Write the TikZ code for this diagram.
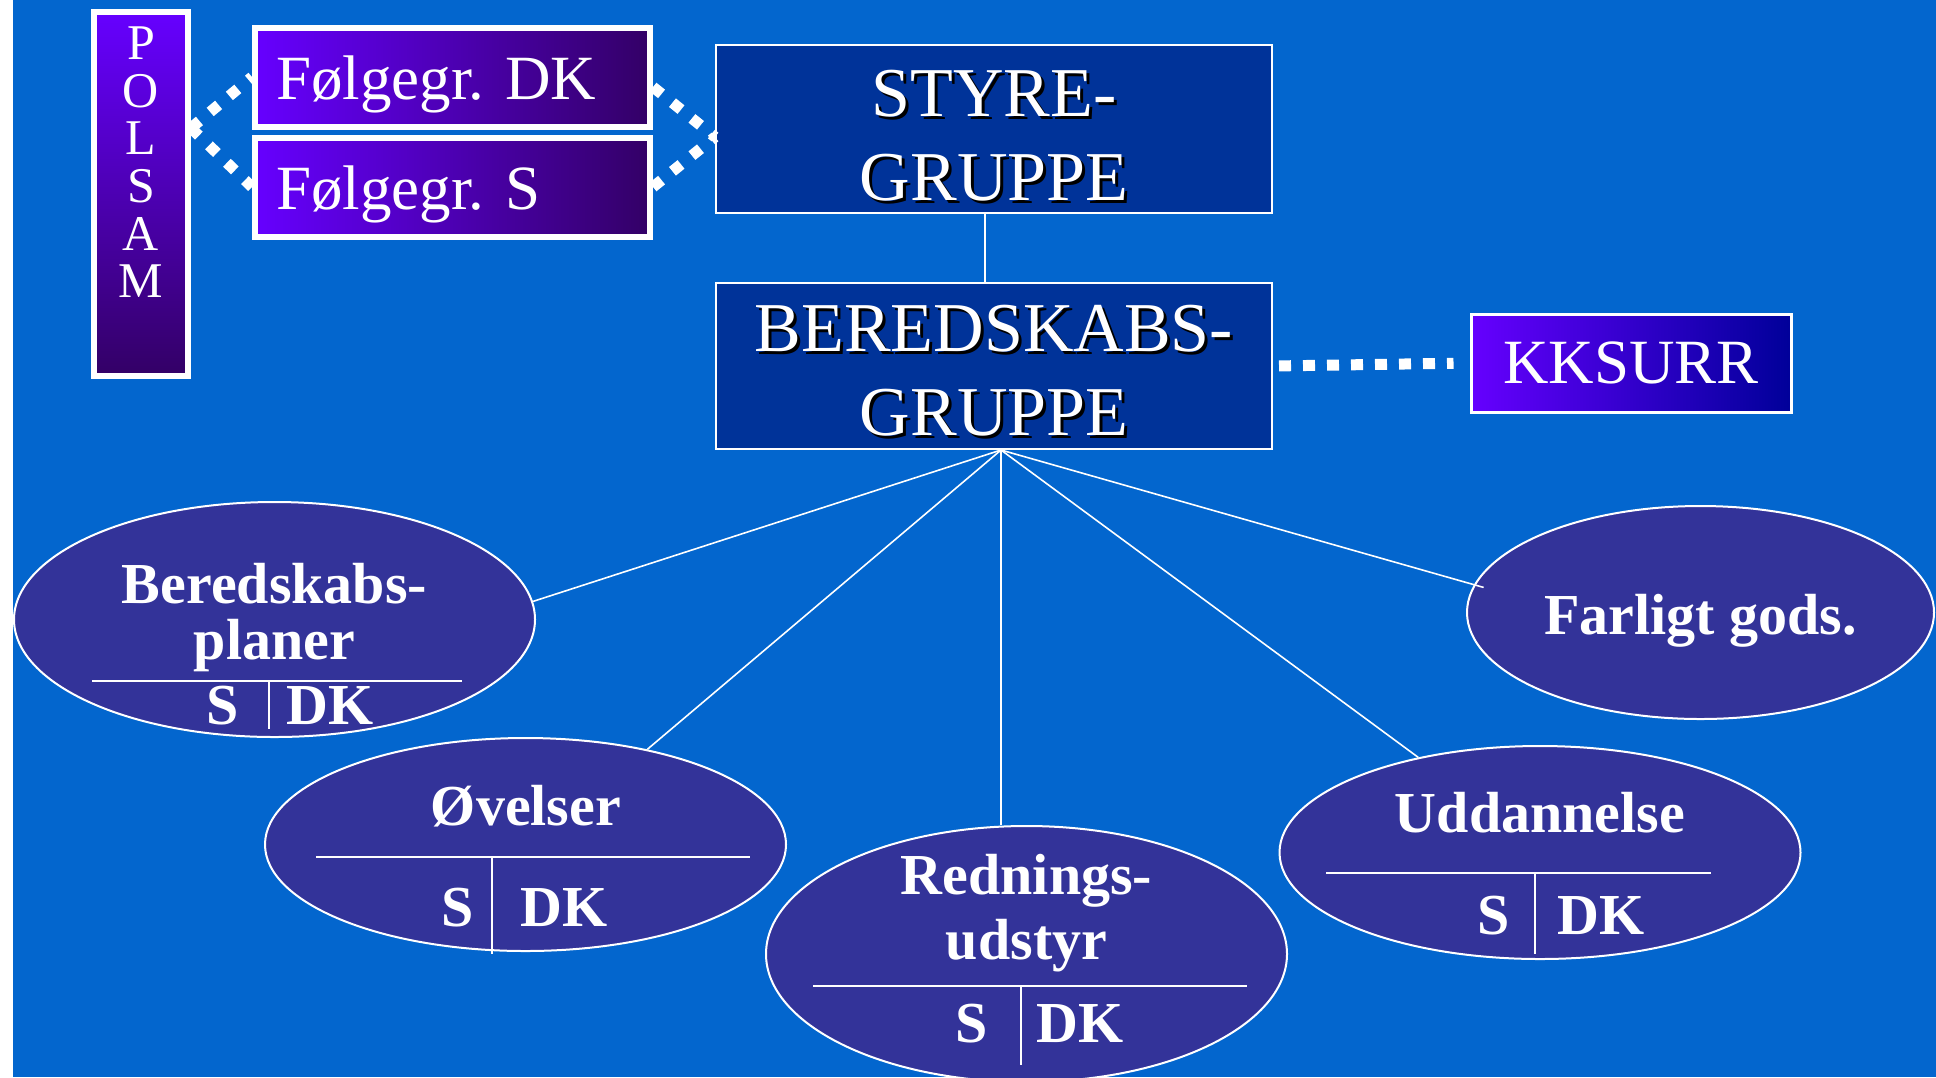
\documentclass[tikz,border=0pt]{standalone}
\usepackage{fontspec}
\setmainfont{Liberation Serif}
\usetikzlibrary{positioning,shapes.geometric}

\definecolor{slideblue}{HTML}{0366CE}
\definecolor{boxblue}{HTML}{003399}
\definecolor{ovalblue}{HTML}{333399}
\definecolor{folviolet}{HTML}{6600FF}
\definecolor{deeppurple}{HTML}{330066}
\definecolor{darknavy}{HTML}{000099}

\newcommand{\shadowtext}[1]{\makebox[0pt][l]{\hspace{1.5pt}\raisebox{-1.5pt}{\color{black}#1}}#1}

\begin{document}
\begin{tikzpicture}[x=0.5pt, y=-0.5pt]
    \tikzset{group/.style={draw=white, line width=1pt, fill=boxblue, text=white, align=center,
                           minimum width=278pt, minimum height=84pt, inner sep=0pt,
                           font=\fontsize{35}{42}\selectfont}}
    \tikzset{follow/.style={draw=white, line width=3pt, left color=folviolet, right color=deeppurple,
                            text=white, text width=176.5pt, align=left, inner xsep=10.5pt, inner ysep=0pt,
                            text height=25pt, text depth=3pt,
                            minimum height=49.5pt, font=\fontsize{31.5}{37}\selectfont}}
    \tikzset{oval/.style={ellipse, draw=white, line width=1pt, fill=ovalblue, inner sep=0pt,
                          minimum width=260.5pt, minimum height=106.5pt}}
    \tikzset{title/.style={text=white, align=center, inner sep=0pt, anchor=base,
                           font=\bfseries\fontsize{29}{28}\selectfont}}
    \tikzset{sdk/.style={text=white, inner sep=0pt, font=\bfseries\fontsize{29}{29}\selectfont}}
    \tikzset{thin line/.style={draw=white, line width=0.8pt}}
    \tikzset{linkdots/.style={draw=white, line width=5.5pt, dash pattern=on 5.5pt off 7pt}}

    % background
    \useasboundingbox (0,0) rectangle (1936,1077);
    \fill[white] (0,0) rectangle (1936,1077);
    \fill[slideblue] (13,0) rectangle (1936,1077);

    % boxes
    \node[draw=white, line width=3pt, top color=folviolet, bottom color=deeppurple, text=white,
          align=center, minimum width=47pt, inner sep=7.5pt, anchor=north,
          font=\fontsize{25}{23.8}\selectfont] (polsam) at (141,9)
          {P\\O\\L\\S\\A\\M\rule[-31.5pt]{0pt}{31.5pt}};
    \node[follow] (fdk) at (452.5,77) {Følgegr.\ DK};
    \node[follow, below=2.5pt of fdk] (fs) {Følgegr.\ S};
    \node[group] (styre) at (994,129) {\rule{0pt}{31pt}\shadowtext{STYRE-}\\\shadowtext{GRUPPE}};
    \node[group, minimum height=83pt] (bered) at (994,366) {\rule{0pt}{29pt}\shadowtext{BEREDSKABS-}\\\shadowtext{GRUPPE}};
    \node[draw=white, line width=1.5pt, left color=folviolet, right color=darknavy, text=white,
          minimum width=160pt, minimum height=49pt, font=\fontsize{31.5}{37}\selectfont] (kk) at (1631,363) {KKSURR};

    % dotted links
    \coordinate (pjoin) at ([shift={(0,119)}]polsam.north east);
    \coordinate (sjoin) at ([shift={(0,8)}]styre.west);
    \draw[linkdots] (pjoin) -- (fdk.west);
    \draw[linkdots] (pjoin) -- (fs.west);
    \draw[linkdots] ([yshift=-5pt]fdk.east) -- (sjoin);
    \draw[linkdots] (fs.east) -- (sjoin);
    \draw[draw=white, line width=5.5pt, dash pattern=on 6pt off 6pt, shorten <=3pt, shorten >=8pt] (bered.east) -- (kk.west);

    % styre - beredskab
    \draw[thin line] ([xshift=-4.5pt]styre.south) -- ([xshift=-4.5pt]styre.south |- bered.north);

    % ellipses
    \node[oval, minimum height=117.5pt] (plan) at (274.5,619.5) {};
    \node[oval] (ovel) at (525.5,844.5) {};
    \node[oval, minimum height=128pt] (redn) at (1026.5,954) {};
    \node[oval] (udd) at (1540,852.5) {};
    \node[oval, minimum width=233.5pt] (farl) at (1700.5,612.5) {};

    % titles (base = last line)
    \node[title] (plan title) at ([shift={(0,39.5)}]plan.center) {Beredskabs-\\planer};
    \node[title] (ovel title) at ([shift={(0.5,-19.5)}]ovel.center) {Øvelser};
    \node[title, font=\bfseries\fontsize{29}{32.5}\selectfont] (redn title) at ([shift={(0,5)}]redn.center) {Rednings-\\udstyr};
    \node[title] (udd title) at ([shift={(0,-20.5)}]udd.center) {Uddannelse};
    \node[title] (farl title) at ([shift={(0,21.5)}]farl.center) {Farligt gods.};

    % S | DK tables
    \draw[thin line] ([shift={(-182.5,61.5)}]plan.center) -- ([shift={(187.5,61.5)}]plan.center);
    \draw[thin line] ([shift={(-5.5,61.5)}]plan.center) -- ([shift={(-5.5,109.5)}]plan.center);
    \node[sdk, anchor=base east] (plan s) at ([shift={(-35.5,104.5)}]plan.center) {S};
    \node[sdk, anchor=base west] (plan dk) at ([shift={(11.5,104.5)}]plan.center) {DK};

    \draw[thin line] ([shift={(-209.5,12.5)}]ovel.center) -- ([shift={(224.5,12.5)}]ovel.center);
    \draw[thin line] ([shift={(-33.5,12.5)}]ovel.center) -- ([shift={(-33.5,109.5)}]ovel.center);
    \node[sdk, anchor=base east] (ovel s) at ([shift={(-51.5,81.5)}]ovel.center) {S};
    \node[sdk, anchor=base west] (ovel dk) at ([shift={(-5.5,81.5)}]ovel.center) {DK};

    \draw[thin line] ([shift={(-213.5,32)}]redn.center) -- ([shift={(220.5,32)}]redn.center);
    \draw[thin line] ([shift={(-5.5,32)}]redn.center) -- ([shift={(-5.5,111)}]redn.center);
    \node[sdk, anchor=base east] (redn s) at ([shift={(-38.5,88)}]redn.center) {S};
    \node[sdk, anchor=base west] (redn dk) at ([shift={(9.5,88)}]redn.center) {DK};

    \draw[thin line] ([shift={(-214,20.5)}]udd.center) -- ([shift={(171,20.5)}]udd.center);
    \draw[thin line] ([shift={(-5,20.5)}]udd.center) -- ([shift={(-5,101.5)}]udd.center);
    \node[sdk, anchor=base east] (udd s) at ([shift={(-30,81.5)}]udd.center) {S};
    \node[sdk, anchor=base west] (udd dk) at ([shift={(17,81.5)}]udd.center) {DK};

    % fan lines
    \coordinate (fan) at ([xshift=3.5pt]bered.south);
    \draw[thin line] (fan) -- (plan.4);
    \draw[thin line] (fan) -- (ovel.38);
    \draw[thin line] (fan) -- (fan |- redn.north);
    \draw[thin line] (fan) -- (udd.142);
    \draw[thin line, shorten >=-5pt] (fan) -- (farl.173);

\end{tikzpicture}
\end{document}
